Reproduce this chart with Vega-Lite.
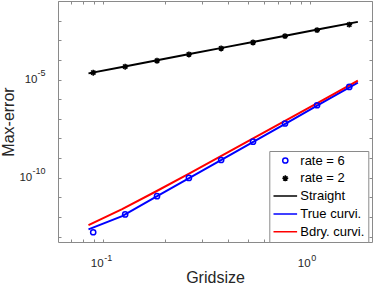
{
  "$schema": "https://vega.github.io/schema/vega-lite/v6.json",
  "autosize": "none",
  "padding": {"left": 58, "top": 1, "right": 2, "bottom": 44},
  "width": 314,
  "height": 241,
  "background": "#ffffff",
  "datasets": {
    "lines": [
      {"series": "Straight", "h": 0.08493, "err": 2.09e-5},
      {"series": "Straight", "h": 0.1235, "err": 4.43e-5},
      {"series": "Straight", "h": 0.1797, "err": 9.45e-5},
      {"series": "Straight", "h": 0.2614, "err": 2.02e-4},
      {"series": "Straight", "h": 0.3801, "err": 4.29e-4},
      {"series": "Straight", "h": 0.5523, "err": 9.11e-4},
      {"series": "Straight", "h": 0.8036, "err": 1.945e-3},
      {"series": "Straight", "h": 1.168, "err": 4.12e-3},
      {"series": "Straight", "h": 1.7, "err": 8.79e-3},
      {"series": "True curvi.", "h": 0.08493, "err": 2.35e-13},
      {"series": "True curvi.", "h": 0.1235, "err": 1.11e-12},
      {"series": "True curvi.", "h": 0.1797, "err": 1.047e-11},
      {"series": "True curvi.", "h": 0.2614, "err": 9.79e-11},
      {"series": "True curvi.", "h": 0.3801, "err": 9.14e-10},
      {"series": "True curvi.", "h": 0.5523, "err": 8.53e-9},
      {"series": "True curvi.", "h": 0.8036, "err": 8.02e-8},
      {"series": "True curvi.", "h": 1.168, "err": 7.48e-7},
      {"series": "True curvi.", "h": 1.7, "err": 7.03e-6},
      {"series": "Bdry. curvi.", "h": 0.08493, "err": 3.88e-13},
      {"series": "Bdry. curvi.", "h": 0.1235, "err": 2.52e-12},
      {"series": "Bdry. curvi.", "h": 0.1797, "err": 1.99e-11},
      {"series": "Bdry. curvi.", "h": 0.2614, "err": 1.66e-10},
      {"series": "Bdry. curvi.", "h": 0.3801, "err": 1.46e-9},
      {"series": "Bdry. curvi.", "h": 0.5523, "err": 1.285e-8},
      {"series": "Bdry. curvi.", "h": 0.8036, "err": 1.14e-7},
      {"series": "Bdry. curvi.", "h": 1.168, "err": 1.0e-6},
      {"series": "Bdry. curvi.", "h": 1.7, "err": 8.87e-6}
    ],
    "pts": [
      {"series": "rate = 2", "h": 0.0895, "err": 2.26e-5},
      {"series": "rate = 2", "h": 0.1277, "err": 4.57e-5},
      {"series": "rate = 2", "h": 0.182, "err": 9.2e-5},
      {"series": "rate = 2", "h": 0.2595, "err": 1.92e-4},
      {"series": "rate = 2", "h": 0.3715, "err": 3.89e-4},
      {"series": "rate = 2", "h": 0.5297, "err": 7.82e-4},
      {"series": "rate = 2", "h": 0.756, "err": 1.65e-3},
      {"series": "rate = 2", "h": 1.08, "err": 3.33e-3},
      {"series": "rate = 2", "h": 1.545, "err": 6.41e-3},
      {"series": "rate = 6", "h": 0.0895, "err": 1.66e-13},
      {"series": "rate = 6", "h": 0.1277, "err": 1.355e-12},
      {"series": "rate = 6", "h": 0.182, "err": 1.148e-11},
      {"series": "rate = 6", "h": 0.2595, "err": 9.77e-11},
      {"series": "rate = 6", "h": 0.3715, "err": 8.02e-10},
      {"series": "rate = 6", "h": 0.5297, "err": 6.89e-9},
      {"series": "rate = 6", "h": 0.756, "err": 5.83e-8},
      {"series": "rate = 6", "h": 1.08, "err": 4.95e-7},
      {"series": "rate = 6", "h": 1.545, "err": 4.26e-6}
    ]
  },
  "resolve": {"axis": {"x": "independent", "y": "independent"}},
  "layer": [
    {
      "data": {"name": "lines"},
      "mark": {"type": "line", "strokeWidth": 2, "clip": true},
      "encoding": {
        "x": {"field": "h", "type": "quantitative",
          "scale": {"type": "log", "domain": [0.0605, 1.99], "nice": false},
          "axis": {"orient": "bottom", "values": [0.1, 1], "ticks": false, "labelExpr": "'10'", "labelAlign": "right", "labelBaseline": "alphabetic", "labelPadding": 24,
            "title": "Gridsize", "titleX": 157, "titleY": 40.5, "titleBaseline": "alphabetic", "titleAlign": "center"}},
        "y": {"field": "err", "type": "quantitative",
          "scale": {"type": "log", "domain": [5.3e-14, 0.102], "nice": false},
          "axis": {"orient": "left", "values": [1e-5, 1e-10], "ticks": false, "labelExpr": "'10'", "labelAlign": "right", "labelBaseline": "middle",
            "labelPadding": {"condition": {"test": "datum.value < 1e-7", "value": 26.3}, "value": 21},
            "title": "Max-error", "titleX": -44.5, "titleY": 120.5, "titleAngle": -90, "titleBaseline": "alphabetic", "titleAlign": "center"}},
        "color": {"field": "series", "type": "nominal",
          "scale": {"domain": ["rate = 6", "rate = 2", "Straight", "True curvi.", "Bdry. curvi."], "range": ["#0000ff", "#000000", "#000000", "#0000ff", "#ff0000"]},
          "legend": {"orient": "none", "legendX": 211.3, "legendY": 150, "title": null}}
      }
    },
    {
      "data": {"name": "pts"},
      "mark": {"type": "point", "filled": false, "size": 557, "strokeWidth": 1.5, "opacity": 1},
      "encoding": {
        "x": {"field": "h", "type": "quantitative",
          "scale": {"type": "log", "domain": [0.0605, 1.99], "nice": false},
          "axis": {"orient": "bottom", "values": [0.1, 1], "ticks": false, "labelExpr": "datum.value < 0.5 ? '-1' : '0'", "labelAlign": "left", "labelBaseline": "alphabetic", "labelPadding": 18.5, "labelFontSize": 9, "labelOffset": 0.5, "title": null}},
        "y": {"field": "err", "type": "quantitative",
          "scale": {"type": "log", "domain": [5.3e-14, 0.102], "nice": false},
          "axis": {"orient": "left", "values": [1e-5, 1e-10], "ticks": false, "labelExpr": "datum.value > 1e-7 ? '-5' : '-10'", "labelAlign": "right", "labelBaseline": "middle", "labelPadding": 13, "labelFontSize": 9, "labelOffset": -7, "title": null}},
        "color": {"field": "series", "type": "nominal",
          "scale": {"domain": ["rate = 6", "rate = 2", "Straight", "True curvi.", "Bdry. curvi."], "range": ["#0000ff", "#000000", "#000000", "#0000ff", "#ff0000"]},
          "legend": {"orient": "none", "legendX": 211.3, "legendY": 150, "title": null}},
        "shape": {"field": "series", "type": "nominal",
          "scale": {"domain": ["rate = 6", "rate = 2", "Straight", "True curvi.", "Bdry. curvi."],
            "range": ["M0.22,0A0.22,0.22,0,1,1,-0.22,0A0.22,0.22,0,1,1,0.22,0Z", "M-0.25,0L0.25,0M0,-0.25L0,0.25M-0.18,-0.18L0.18,0.18M-0.18,0.18L0.18,-0.18", "M-1,0L1,0", "M-1,0L1,0", "M-1,0L1,0"]},
          "legend": {"orient": "none", "legendX": 211.3, "legendY": 150, "title": null}}
      }
    },
    {
      "data": {"name": "pts"},
      "mark": {"type": "point", "opacity": 0},
      "encoding": {
        "x": {"field": "h", "type": "quantitative",
          "scale": {"type": "log", "domain": [0.0605, 1.99], "nice": false},
          "axis": {"orient": "bottom", "values": [0.07, 0.08, 0.09, 0.1, 0.2, 0.3, 0.4, 0.5, 0.6, 0.7, 0.8, 0.9, 1], "labels": false, "ticks": true, "tickSize": -3, "title": null}},
        "y": {"field": "err", "type": "quantitative",
          "scale": {"type": "log", "domain": [5.3e-14, 0.102], "nice": false},
          "axis": {"orient": "left", "values": [1e-1, 1e-2, 1e-3, 1e-4, 1e-5, 1e-6, 1e-7, 1e-8, 1e-9, 1e-10, 1e-11, 1e-12, 1e-13], "labels": false, "ticks": true, "tickSize": -3, "title": null}}
      }
    },
    {
      "data": {"name": "pts"},
      "mark": {"type": "point", "opacity": 0},
      "encoding": {
        "x": {"field": "h", "type": "quantitative",
          "scale": {"type": "log", "domain": [0.0605, 1.99], "nice": false},
          "axis": {"orient": "top", "values": [0.07, 0.08, 0.09, 0.1, 0.2, 0.3, 0.4, 0.5, 0.6, 0.7, 0.8, 0.9, 1], "labels": false, "ticks": true, "tickSize": -3, "title": null}},
        "y": {"field": "err", "type": "quantitative",
          "scale": {"type": "log", "domain": [5.3e-14, 0.102], "nice": false},
          "axis": {"orient": "right", "values": [1e-1, 1e-2, 1e-3, 1e-4, 1e-5, 1e-6, 1e-7, 1e-8, 1e-9, 1e-10, 1e-11, 1e-12, 1e-13], "labels": false, "ticks": true, "tickSize": -3, "title": null}}
      }
    }
  ],
  "config": {
    "view": {"stroke": "#8a8a8a", "strokeWidth": 1},
    "axis": {"domain": false, "grid": false, "labelFont": "Liberation Sans", "titleFont": "Liberation Sans", "labelColor": "#262626", "titleColor": "#262626", "tickColor": "#8a8a8a", "tickWidth": 1, "labelFontSize": 11.5, "titleFontSize": 16, "titleFontWeight": "normal", "labelOverlap": false, "labelFlush": false, "labelBound": false},
    "legend": {"fillColor": "#ffffff", "strokeColor": "#8a8a8a", "padding": 3, "labelFont": "Liberation Sans", "labelFontSize": 13, "labelColor": "#000000", "labelOffset": 2, "symbolSize": 557, "symbolStrokeWidth": 1.5, "clipHeight": 13, "rowPadding": 3.8, "symbolOffset": 0}
  }
}
